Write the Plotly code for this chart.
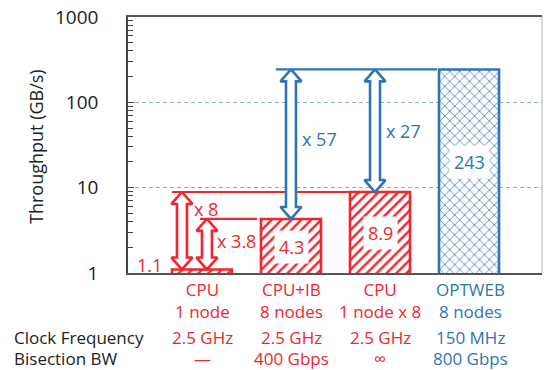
import math
import plotly.graph_objects as go

# ---------------- data ----------------
categories = ["CPU<br>1 node", "CPU+IB<br>8 nodes", "CPU<br>1 node x 8", "OPTWEB<br>8 nodes"]
throughput = [1.1, 4.3, 8.9, 243]
value_labels = ["1.1", "4.3", "8.9", "243"]
clock_freq = ["2.5 GHz", "2.5 GHz", "2.5 GHz", "150 MHz"]
bisection_bw = ["—", "400 Gbps", "∞", "800 Gbps"]
row_labels = ["Clock Frequency", "Bisection BW"]
speedups = [("x 8", 0, 2), ("x 3.8", 0, 1), ("x 57", 1, 3), ("x 27", 2, 3)]
y_ticks = [1, 10, 100, 1000]
y_title = "Throughput (GB/s)"

RED = "#f0262e"
BLUE = "#2e75b6"
colors = [RED, RED, RED, BLUE]
FONT = "Open Sans"

W, H = 544, 370
L, R, T, B = 128, 542, 17, 273


def pxx(px):
    return (px - L) / (R - L)


def pxy(py):
    return (B - py) / (B - T)


def note(text, px, py, color, size, xanchor="center", **kw):
    fig.add_annotation(x=pxx(px), y=pxy(py), xref="paper", yref="paper", text=text,
                       showarrow=False, xanchor=xanchor, yanchor="middle",
                       font=dict(family=FONT, size=size, color=color), **kw)


xs = list(range(len(categories)))
fig = go.Figure()
fig.add_trace(go.Bar(
    x=xs, y=throughput, width=0.674,
    marker=dict(
        color="white",
        line=dict(color=colors, width=2.6),
        pattern=dict(shape=["/", "/", "/", "x"], fgcolor=colors, bgcolor="white",
                     size=[7, 7, 7, 7], solidity=[0.35, 0.35, 0.35, 0.2],
                     fillmode="overlay", fgopacity=1),
    ),
    showlegend=False, hoverinfo="skip",
))

# hollow double arrows
HW, HH, HL = 0.056, 0.118, 0.14


def double_arrow(xc, v0, v1, color):
    l0, l1 = math.log10(v0), math.log10(v1)
    pts = [(xc, l1), (xc + HH, l1 - HL), (xc + HW, l1 - HL), (xc + HW, l0 + HL),
           (xc + HH, l0 + HL), (xc, l0), (xc - HH, l0 + HL), (xc - HW, l0 + HL),
           (xc - HW, l1 - HL), (xc - HH, l1 - HL), (xc, l1)]
    fig.add_trace(go.Scatter(
        x=[p[0] for p in pts], y=[10 ** p[1] for p in pts], mode="lines",
        fill="toself", fillcolor="white", line=dict(color=color, width=2.6),
        showlegend=False, hoverinfo="skip"))


# horizontal reference lines
hlines = [(-0.337, 1.663, throughput[2], RED), (-0.022, 0.618, throughput[1], RED),
          (0.83, 2.64, throughput[3], BLUE)]
for x0, x1, v, c in hlines:
    fig.add_trace(go.Scatter(x=[x0, x1], y=[v, v], mode="lines",
                             line=dict(color=c, width=2.2), showlegend=False, hoverinfo="skip"))

arrow_x = [-0.225, 0.056, 1.0, 1.944]
label_px = [(206, 209), (236, 241), (319, 139), (403, 131)]
for (txt, i0, i1), ax, (lx, ly) in zip(speedups, arrow_x, label_px):
    c = colors[i1]
    double_arrow(ax, throughput[i0], throughput[i1], c)
    note(txt, lx, ly, c, 18)

# value labels
val_pos = [(149, 265, False), (291, 247, True), (380, 233, True), (469, 162, True)]
for t, c, (lx, ly, bg) in zip(value_labels, colors, val_pos):
    note(t, lx, ly, c, 18, bgcolor="white" if bg else None, borderpad=4)

# category labels and table rows
bar_px = [202, 291, 380, 470]
for px, cat, cf, bw, c in zip(bar_px, categories, clock_freq, bisection_bw, colors):
    note(cat, px, 300, c, 17)
    note(cf, px, 337, c, 17)
    note(bw, px, 358, c, 17)
for lbl, py in zip(row_labels, [337, 358]):
    note(lbl, 12, py, "#222", 17, xanchor="left")

# y-axis title
note(y_title, 36, 147, "#222", 18, textangle=-90)

# right border
fig.add_shape(type="line", xref="paper", yref="paper", x0=1, x1=1, y0=0, y1=1,
              line=dict(color="#b0b0b0", width=1))

minor_vals = [m * 10 ** e for e in range(3) for m in range(2, 10)]
fig.update_layout(
    width=W, height=H, margin=dict(l=L, r=W - R, t=T, b=H - B, autoexpand=False),
    paper_bgcolor="white", plot_bgcolor="white",
    font=dict(family=FONT, color="#222"),
    xaxis=dict(range=[-0.831, 3.82], showticklabels=False, ticks="", showgrid=False,
               automargin=False,
               zeroline=False, showline=True, linecolor="#555", linewidth=1.5, mirror=True),
    yaxis=dict(type="log", range=[0, 3], tickvals=y_ticks, ticktext=[str(v) for v in y_ticks],
               automargin=False,
               ticks="inside", ticklen=6, tickcolor="#444", tickwidth=1.2,
               ticklabelstandoff=24, tickfont=dict(family=FONT, size=19, color="#222"),
               showline=True, linecolor="#444", linewidth=1.5, mirror=False,
               showgrid=True, gridcolor="#8fa9dc", griddash="4px,3px", gridwidth=1.2,
               zeroline=False,
               minor=dict(tickvals=minor_vals, ticks="inside", ticklen=5, tickcolor="#444",
                          showgrid=False)),
)

fig.write_html("out.html", config={"displayModeBar": False},
               post_script="document.body.style.margin='0';document.body.style.overflow='hidden';")
